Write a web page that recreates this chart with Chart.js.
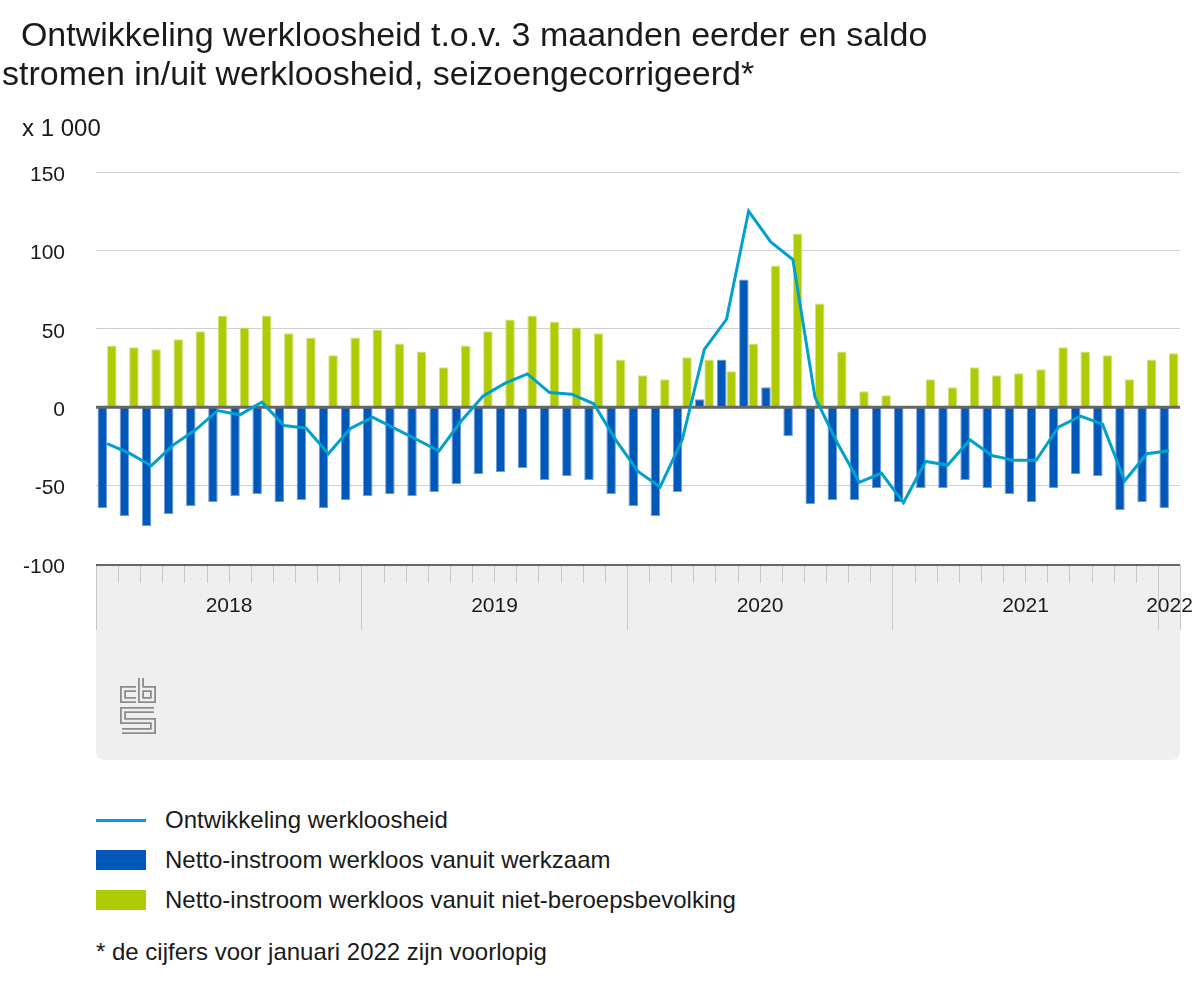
<!DOCTYPE html>
<html>
<head>
<meta charset="utf-8">
<script src="https://cdn.jsdelivr.net/npm/chart.js@4.4.0/dist/chart.umd.min.js"></script>
<style>
  body { margin: 0; background: #fff; font-family: "Liberation Sans", Arial, sans-serif; color: #1a1a1a; }
  #wrap { position: relative; width: 1200px; height: 1000px; overflow: hidden; }
  #myChart { position: absolute; left: 0; top: 0; }
  .t { position: absolute; white-space: pre; }
  #title { left: 2px; top: 15px; font-size: 34px; line-height: 39px; }
  #unit { left: 22px; top: 116px; font-size: 24px; line-height: 24px; }
  .leg { position: absolute; left: 96px; font-size: 24px; line-height: 24px; white-space: pre; }
  .leg i { position: absolute; left: 0; width: 50px; }
  .leg span { position: absolute; left: 69px; top: 0; }
  #note { left: 96px; top: 940px; font-size: 24px; line-height: 24px; }
</style>
</head>
<body>
<div id="wrap">
  <canvas id="myChart" width="1200" height="780"></canvas>
  <div class="t" id="title">  Ontwikkeling werkloosheid t.o.v. 3 maanden eerder en saldo
stromen in/uit werkloosheid, seizoengecorrigeerd*</div>
  <div class="t" id="unit">x 1 000</div>
  <div id="legend"></div>
  <div class="t" id="note">* de cijfers voor januari 2022 zijn voorlopig</div>
</div>

<script>
  const months = [
    "2018 jan", "2018 feb", "2018 mrt", "2018 apr", "2018 mei", "2018 jun",
    "2018 jul", "2018 aug", "2018 sep", "2018 okt", "2018 nov", "2018 dec",
    "2019 jan", "2019 feb", "2019 mrt", "2019 apr", "2019 mei", "2019 jun",
    "2019 jul", "2019 aug", "2019 sep", "2019 okt", "2019 nov", "2019 dec",
    "2020 jan", "2020 feb", "2020 mrt", "2020 apr", "2020 mei", "2020 jun",
    "2020 jul", "2020 aug", "2020 sep", "2020 okt", "2020 nov", "2020 dec",
    "2021 jan", "2021 feb", "2021 mrt", "2021 apr", "2021 mei", "2021 jun",
    "2021 jul", "2021 aug", "2021 sep", "2021 okt", "2021 nov", "2021 dec",
    "2022 jan"
  ];

  // ontwikkeling werkloosheid t.o.v. 3 maanden eerder (x 1 000)
  const werkloosheid = [
    -23.3, -29.3, -37.3, -24.0, -14.4, -2.1, -4.9, 3.2, -11.7, -13.4, -29.7, -13.6,
    -6.4, -13.5, -20.6, -28.0, -9.0, 7.2, 15.3, 21.2, 9.3, 8.3, 2.2, -21.0,
    -41.0, -50.9, -20.8, 36.9, 56.0, 125.1, 105.4, 94.2, 6.4, -22.5, -47.9, -42.0,
    -60.9, -34.6, -36.9, -20.8, -30.8, -33.9, -33.9, -12.7, -5.7, -10.8, -46.9, -29.7,
    -27.8
  ];

  // netto-instroom vanuit werkzaam
  const vanuitWerkzaam = [
    -64.3, -69.4, -75.7, -68.1, -63.0, -60.4, -56.6, -55.4, -60.4, -59.2, -64.3, -59.2,
    -56.6, -55.4, -56.6, -54.1, -49.0, -42.6, -41.4, -38.8, -46.4, -43.9, -46.4, -55.4,
    -63.0, -69.4, -54.1, 5.1, 30.5, 81.4, 12.7, -18.5, -61.7, -59.2, -59.2, -51.5,
    -60.4, -51.5, -51.5, -46.4, -51.5, -55.4, -60.4, -51.5, -42.6, -43.9, -65.5, -60.4,
    -64.3
  ];

  // netto-instroom vanuit niet-beroepsbevolking
  const vanuitNbb = [
    39.4, 38.2, 36.9, 43.3, 48.4, 58.5, 50.9, 58.5, 47.1, 44.5, 33.1, 44.5,
    49.6, 40.7, 35.6, 25.5, 39.4, 48.4, 56.0, 58.5, 54.7, 50.9, 47.1, 30.5,
    20.4, 17.8, 31.8, 30.5, 22.9, 40.7, 90.3, 110.7, 66.2, 35.6, 10.2, 7.6,
    0, 17.8, 12.7, 25.5, 20.4, 21.6, 24.2, 38.2, 35.6, 33.1, 17.8, 30.5,
    34.4
  ];

  const yTicks = [-100, -50, 0, 50, 100, 150];

  const fontFam = '"Liberation Sans", Arial, sans-serif';
  const lightBlue = "#00a1cd";
  const darkBlue = "#0058b8";
  const green = "#afcb05";

  // gray box under the axis, month ticks, year labels and logo
  const cbsFrame = {
    id: "cbsFrame",
    beforeDraw(chart) {
      const ctx = chart.ctx;
      const area = chart.chartArea;
      const x = chart.scales.x;
      const slot = x.getPixelForValue(1) - x.getPixelForValue(0);
      const top = area.bottom + 1;
      const bottom = 760;
      const r = 9;

      ctx.save();
      ctx.fillStyle = "#efefef";
      ctx.beginPath();
      ctx.moveTo(area.left, top);
      ctx.lineTo(area.right, top);
      ctx.lineTo(area.right, bottom - r);
      ctx.quadraticCurveTo(area.right, bottom, area.right - r, bottom);
      ctx.lineTo(area.left + r, bottom);
      ctx.quadraticCurveTo(area.left, bottom, area.left, bottom - r);
      ctx.closePath();
      ctx.fill();

      // month ticks and year boundaries
      ctx.strokeStyle = "#c8c8c8";
      ctx.lineWidth = 1;
      let years = [];
      for (let i = 0; i <= months.length; i++) {
        let px = Math.round((i < months.length ? x.getPixelForValue(i) : x.getPixelForValue(i - 1) + slot) - slot / 2) + 0.5;
        let yr = i < months.length ? months[i].slice(0, 4) : null;
        let prev = i > 0 ? months[i - 1].slice(0, 4) : null;
        let isYear = yr !== prev;
        ctx.beginPath();
        ctx.moveTo(px, top);
        ctx.lineTo(px, isYear ? 630 : 583);
        ctx.stroke();
        if (yr && isYear) years.push({ year: yr, start: px });
        if (isYear && years.length > 1 && years[years.length - 2].end === undefined) years[years.length - 2].end = px;
        if (!yr && years.length) years[years.length - 1].end = px;
      }

      ctx.fillStyle = "#1a1a1a";
      ctx.font = "21px " + fontFam;
      ctx.textAlign = "center";
      ctx.textBaseline = "middle";
      years.forEach(function (y) {
        ctx.fillText(y.year, (y.start + y.end) / 2, 606);
      });

      // axis line
      ctx.strokeStyle = "#666";
      ctx.lineWidth = 2;
      ctx.beginPath();
      ctx.moveTo(area.left, area.bottom + 1);
      ctx.lineTo(area.right, area.bottom + 1);
      ctx.stroke();

      // cbs logo
      const lx = 120, ly = 678;
      const paths = [
        [[16, 11], [3, 11], [3, 22], [16, 22]],
        [[21, 0], [21, 22], [33, 22], [33, 11], [21, 11]],
        [[34, 32], [3, 32], [3, 43], [33, 43], [33, 53], [2, 53]]
      ];
      [["#8c8c8c", 6], ["#efefef", 2.4]].forEach(function (st) {
        ctx.strokeStyle = st[0];
        ctx.lineWidth = st[1];
        ctx.lineJoin = "miter";
        paths.forEach(function (p) {
          ctx.beginPath();
          p.forEach(function (pt, k) {
            if (k === 0) ctx.moveTo(lx + pt[0], ly + pt[1]);
            else ctx.lineTo(lx + pt[0], ly + pt[1]);
          });
          ctx.stroke();
        });
      });
      ctx.restore();
    },
    beforeDatasetDraw(chart, args) {
      // zero line over the bars, under the line
      if (args.index !== 0) return;
      const ctx = chart.ctx;
      const area = chart.chartArea;
      const y0 = chart.scales.y.getPixelForValue(0);
      ctx.save();
      ctx.strokeStyle = "#666";
      ctx.lineWidth = 3;
      ctx.beginPath();
      ctx.moveTo(area.left, y0);
      ctx.lineTo(area.right, y0);
      ctx.stroke();
      ctx.restore();
    }
  };

  const chart = new Chart("myChart", {
    data: {
      labels: months,
      datasets: [
        {
          type: "line",
          label: "Ontwikkeling werkloosheid",
          data: werkloosheid,
          borderColor: lightBlue,
          backgroundColor: lightBlue,
          borderWidth: 3,
          pointRadius: 0,
          tension: 0,
          fill: false,
          order: 0
        },
        {
          type: "bar",
          label: "Netto-instroom werkloos vanuit werkzaam",
          data: vanuitWerkzaam,
          backgroundColor: darkBlue,
          borderColor: "#6f9bd9",
          borderWidth: 1,
          borderSkipped: "start",
          categoryPercentage: 0.86,
          barPercentage: 1,
          order: 1
        },
        {
          type: "bar",
          label: "Netto-instroom werkloos vanuit niet-beroepsbevolking",
          data: vanuitNbb,
          backgroundColor: green,
          borderColor: "#d3e27a",
          borderWidth: 1,
          borderSkipped: "start",
          categoryPercentage: 0.86,
          barPercentage: 1,
          order: 2
        }
      ]
    },
    options: {
      responsive: false,
      animation: false,
      devicePixelRatio: 1,
      layout: { padding: { left: 0, right: 20, top: 172, bottom: 216 } },
      plugins: { legend: { display: false }, tooltip: { enabled: false } },
      scales: {
        x: { display: false, offset: true },
        y: {
          min: -100,
          max: 150,
          afterBuildTicks(scale) {
            scale.ticks = yTicks.map(function (v) { return { value: v }; });
          },
          afterFit(scale) { scale.width = 96; },
          ticks: {
            padding: 31,
            labelOffset: 3,
            color: "#1a1a1a",
            font: { family: fontFam, size: 21 }
          },
          grid: {
            drawTicks: false,
            lineWidth: 1,
            color: function (c) {
              return (c.tick && (c.tick.value === 0 || c.tick.value === -100)) ? "rgba(0,0,0,0)" : "#d0d0d0";
            }
          },
          border: { display: false }
        }
      }
    },
    plugins: [cbsFrame]
  });

  // legend rows
  const legendDiv = document.getElementById("legend");
  const rowCenters = [820, 860, 900];
  chart.data.datasets.forEach(function (ds, i) {
    const row = document.createElement("div");
    row.className = "leg";
    row.style.top = (rowCenters[i] - 12) + "px";
    const mark = document.createElement("i");
    if (ds.type === "line") {
      mark.style.top = "11px";
      mark.style.height = "3px";
    } else {
      mark.style.top = "2px";
      mark.style.height = "20px";
    }
    mark.style.background = ds.backgroundColor;
    const txt = document.createElement("span");
    txt.textContent = ds.label;
    row.appendChild(mark);
    row.appendChild(txt);
    legendDiv.appendChild(row);
  });
</script>
</body>
</html>
